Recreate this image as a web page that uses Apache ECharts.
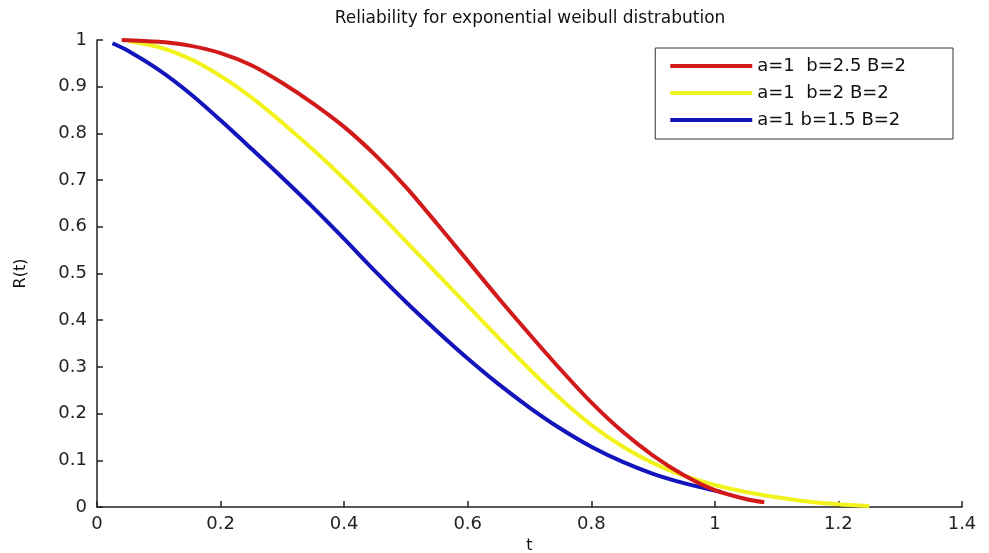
<!DOCTYPE html>
<html>
<head>
<meta charset="utf-8">
<script src="https://cdn.jsdelivr.net/npm/echarts@6/dist/echarts.min.js"></script>
<style>
  html, body { margin: 0; padding: 0; background: #fff; }
  #chart { width: 989px; height: 553px; }
</style>
</head>
<body>
<div id="chart"></div>
<script>
// values: [t, R(t)]
var redData = [
    [0.04, 1.0], [0.1, 0.996], [0.15, 0.988], [0.2, 0.972], [0.25, 0.946], [0.3, 0.908],
    [0.35, 0.864], [0.4, 0.814], [0.45, 0.754], [0.5, 0.685], [0.55, 0.607], [0.6, 0.527],
    [0.65, 0.447], [0.7, 0.370], [0.75, 0.295], [0.8, 0.224], [0.85, 0.162], [0.9, 0.11],
    [0.95, 0.068], [1.0, 0.036], [1.05, 0.017], [1.08, 0.01]
];
var yellowData = [
    [0.05, 0.998], [0.1, 0.985], [0.15, 0.96], [0.2, 0.923], [0.25, 0.877], [0.3, 0.823],
    [0.35, 0.765], [0.4, 0.703], [0.45, 0.637], [0.5, 0.569], [0.55, 0.500], [0.6, 0.431],
    [0.65, 0.362], [0.7, 0.295], [0.75, 0.232], [0.8, 0.176], [0.85, 0.130], [0.9, 0.094],
    [0.95, 0.067], [1.0, 0.047], [1.05, 0.032], [1.1, 0.021], [1.15, 0.012], [1.2, 0.006],
    [1.25, 0.002]
];
var blueData = [
    [0.025, 0.993], [0.05, 0.977], [0.1, 0.936], [0.15, 0.886], [0.2, 0.828], [0.25, 0.767],
    [0.3, 0.705], [0.35, 0.641], [0.4, 0.574], [0.45, 0.505], [0.5, 0.439], [0.55, 0.377],
    [0.6, 0.318], [0.65, 0.263], [0.7, 0.213], [0.75, 0.168], [0.8, 0.129], [0.85, 0.097],
    [0.9, 0.071], [0.95, 0.051], [1.0, 0.035], [1.01, 0.032]
];
var seriesNames = ['a=1  b=2.5 B=2', 'a=1  b=2 B=2', 'a=1 b=1.5 B=2'];
var seriesColors = ['#d21a1a', '#f2f21c', '#1414bc'];

var myChart = echarts.init(document.getElementById('chart'));
var font = 'DejaVu Sans, Verdana, sans-serif';

function mkSeries(i, data) {
    return {
        name: seriesNames[i],
        type: 'line',
        data: data,
        smooth: 0.3,
        symbol: 'none',
        lineStyle: { color: seriesColors[i], width: 4 },
        itemStyle: { color: seriesColors[i] },
        z: 3 - i
    };
}

var option = {
    animation: false,
    backgroundColor: '#fff',
    title: {
        text: 'Reliability for exponential weibull distrabution',
        left: 525, top: 5, textAlign: 'center',
        textStyle: { fontFamily: font, fontSize: 17, fontWeight: 'normal', color: '#111' }
    },
    legend: {
        right: 36, top: 48,
        orient: 'vertical',
        icon: 'rect',
        itemWidth: 82, itemHeight: 4,
        itemGap: 9,
        padding: [9, 47, 10, 15],
        borderColor: '#333', borderWidth: 1,
        backgroundColor: '#fff',
        textStyle: { fontFamily: font, fontSize: 18, color: '#111' },
        data: seriesNames
    },
    grid: { left: 97, right: 27, top: 40, bottom: 46, containLabel: false, outerBoundsMode: 'none' },
    xAxis: {
        type: 'value', min: 0, max: 1.4, interval: 0.2,
        name: 't', nameLocation: 'middle', nameGap: 30,
        nameTextStyle: { fontFamily: font, fontSize: 16, color: '#111' },
        axisLine: { lineStyle: { color: '#222', width: 1.5 } },
        axisTick: { inside: true, length: 6, lineStyle: { color: '#222', width: 1.5 } },
        axisLabel: {
            fontFamily: font, fontSize: 18, color: '#222', margin: 8,
            formatter: function (v) { return String(+v.toFixed(1)); }
        },
        splitLine: { show: false }
    },
    yAxis: {
        type: 'value', min: 0, max: 1, interval: 0.1,
        name: 'R(t)', nameLocation: 'middle', nameGap: 68, nameRotate: 90,
        nameTextStyle: { fontFamily: font, fontSize: 16, color: '#111' },
        axisLine: { show: true, lineStyle: { color: '#222', width: 1.5 } },
        axisTick: { show: true, inside: true, length: 6, lineStyle: { color: '#222', width: 1.5 } },
        axisLabel: {
            fontFamily: font, fontSize: 18, color: '#222', margin: 10,
            formatter: function (v) { return String(+v.toFixed(1)); }
        },
        splitLine: { show: false }
    },
    series: [
        mkSeries(0, redData),
        mkSeries(1, yellowData),
        mkSeries(2, blueData)
    ]
};
myChart.setOption(option);
</script>
</body>
</html>
